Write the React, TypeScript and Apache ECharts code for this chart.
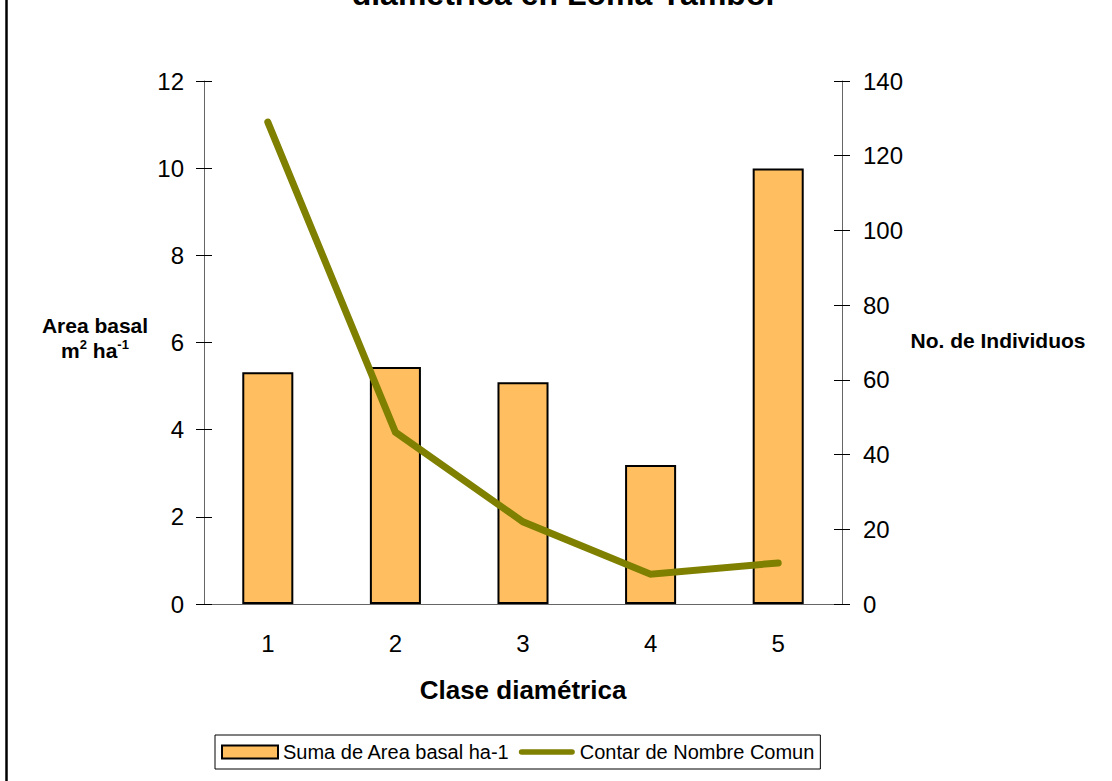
import React, { useEffect, useRef } from "react";
import * as echarts from "echarts";

const categories = ["1", "2", "3", "4", "5"];
const areaBasal = [5.32, 5.44, 5.09, 3.19, 9.99];
const individuos = [129, 46, 22, 8, 11];
const seriesNames = ["Suma de Area basal ha-1", "Contar de Nombre Comun"];

const FONT = "Liberation Sans, Arial, sans-serif";

export default function App() {
  const ref = useRef<HTMLDivElement>(null);
  useEffect(() => {
    const chart = echarts.init(ref.current!, null, { renderer: "svg" });
    const axisLineColor = "#666";
    chart.setOption({
      animation: false,
      backgroundColor: "#fff",
      textStyle: { fontFamily: FONT, color: "#000" },
      grid: { left: 204, right: 270, top: 81, bottom: 177, containLabel: false },
      legend: {
        left: 215,
        top: 735,
        padding: [7, 6, 7, 6],
        itemGap: 9,
        itemWidth: 56,
        itemHeight: 13,
        borderColor: "#000",
        borderWidth: 1,
        textStyle: { fontSize: 20, color: "#000", fontFamily: FONT },
        data: [
          { name: seriesNames[0], icon: "rect" },
          {
            name: seriesNames[1],
            icon: "path://M3,0H57A3,3 0 0 1 57,6H3A3,3 0 0 1 3,0Z",
            itemStyle: { color: "#808000", borderWidth: 0 },
          },
        ],
      },
      xAxis: [
        {
          type: "category",
          data: categories,
          boundaryGap: true,
          axisLine: { lineStyle: { color: axisLineColor, width: 1 } },
          axisTick: { length: 8, lineStyle: { color: "#000" } },
          axisLabel: { fontSize: 24, color: "#000", margin: 27, fontFamily: FONT },
          name: "Clase diamétrica",
          nameLocation: "middle",
          nameGap: 73,
          nameTextStyle: { fontSize: 26, fontWeight: "bold", color: "#000", fontFamily: FONT },
        },
        {
          type: "category",
          data: categories,
          position: "bottom",
          boundaryGap: true,
          axisLine: { show: false },
          axisTick: { inside: true, length: 8, lineStyle: { color: "#000" } },
          axisLabel: { show: false },
        },
      ],
      yAxis: [
        {
          type: "value",
          min: 0,
          max: 12,
          interval: 2,
          position: "left",
          splitLine: { show: false },
          axisLine: { show: true, lineStyle: { color: axisLineColor } },
          axisTick: { show: true, length: 8, lineStyle: { color: "#000" } },
          axisLabel: { fontSize: 24, color: "#000", margin: 20, fontFamily: FONT },
        },
        {
          type: "value",
          min: 0,
          max: 140,
          interval: 20,
          position: "right",
          splitLine: { show: false },
          axisLine: { show: true, lineStyle: { color: axisLineColor } },
          axisTick: { show: true, length: 8, lineStyle: { color: "#000" } },
          axisLabel: { fontSize: 24, color: "#000", margin: 21, fontFamily: FONT },
        },
        {
          type: "value",
          min: 0,
          max: 12,
          interval: 2,
          position: "left",
          splitLine: { show: false },
          axisLine: { show: false },
          axisTick: { show: true, inside: true, length: 8, lineStyle: { color: "#000" } },
          axisLabel: { show: false },
        },
        {
          type: "value",
          min: 0,
          max: 140,
          interval: 20,
          position: "right",
          splitLine: { show: false },
          axisLine: { show: false },
          axisTick: { show: true, inside: true, length: 8, lineStyle: { color: "#000" } },
          axisLabel: { show: false },
        },
      ],
      series: [
        {
          name: seriesNames[0],
          type: "bar",
          data: areaBasal,
          xAxisIndex: 0,
          yAxisIndex: 0,
          barWidth: "40%",
          itemStyle: { color: "#FFBF60", borderColor: "#000", borderWidth: 2 },
        },
        {
          name: seriesNames[1],
          type: "line",
          data: individuos,
          xAxisIndex: 0,
          yAxisIndex: 1,
          symbol: "none",
          lineStyle: { color: "#808000", width: 7, cap: "round", join: "miter" },
          itemStyle: { color: "#808000" },
        },
      ],
      graphic: [
        {
          type: "text",
          x: 563,
          y: -6,
          style: {
            text: "diamétrica en Loma Yambol",
            align: "center",
            verticalAlign: "middle",
            fontSize: 32,
            fontWeight: "bold",
            fontFamily: FONT,
            fill: "#000",
          },
        },
        {
          type: "line",
          shape: { x1: 6.5, y1: 0, x2: 6.5, y2: 781 },
          style: { stroke: "#000", lineWidth: 2.5 },
        },
        {
          type: "text",
          x: 95,
          y: 338,
          style: {
            text: "{b|Area basal}\n{b|m}{s|2}{b| ha}{s|-1}",
            align: "center",
            verticalAlign: "middle",
            lineHeight: 25,
            fontFamily: FONT,
            rich: {
              b: { fontSize: 21, fontWeight: "bold", fontFamily: FONT, fill: "#000", lineHeight: 25 },
              s: { fontSize: 13, fontWeight: "bold", fontFamily: FONT, fill: "#000", verticalAlign: "top", lineHeight: 25, padding: [0, 0, 9, 0] },
            },
          },
        },
        {
          type: "text",
          x: 998,
          y: 340,
          style: {
            text: "No. de Individuos",
            align: "center",
            verticalAlign: "middle",
            fontSize: 21,
            fontWeight: "bold",
            fontFamily: FONT,
            fill: "#000",
          },
        },
      ],
    });
    return () => chart.dispose();
  }, []);
  return (
    <div
      ref={ref}
      style={{ position: "fixed", left: 0, top: 0, width: 1112, height: 781 }}
    />
  );
}
